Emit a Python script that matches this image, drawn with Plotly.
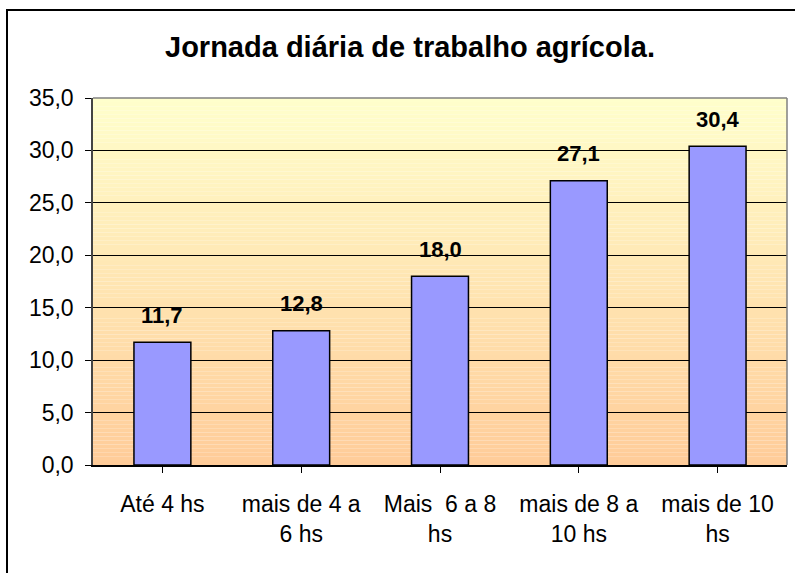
import plotly.graph_objects as go

categories = ["Até 4 hs", "mais de 4 a<br>6 hs", "Mais  6 a 8<br>hs", "mais de 8 a<br>10 hs", "mais de 10<br>hs"]
values = [11.7, 12.8, 18.0, 27.1, 30.4]
value_labels = ["11,7", "12,8", "18,0", "27,1", "30,4"]
title_text = "Jornada diária de trabalho agrícola."

FONT = "Liberation Sans, Arial, sans-serif"

fig = go.Figure()
fig.add_trace(go.Bar(
    x=list(range(len(categories))), y=values,
    marker=dict(color="#9999FF", line=dict(color="black", width=1.5)),
    width=0.41, hoverinfo="skip",
))

def lerp(c1, c2, t):
    return tuple(round(a + (b - a) * t) for a, b in zip(c1, c2))

bottom = (0xFF, 0xCC, 0x99)
top = (0xFF, 0xFF, 0xCC)
N = 90
shapes = []
for i in range(N):
    c = lerp(bottom, top, (i + 0.5) / N)
    shapes.append(dict(type="rect", xref="x domain", yref="y domain",
                       x0=0, x1=1, y0=i / N, y1=(i + 1) / N,
                       fillcolor="rgb(%d,%d,%d)" % c, line=dict(width=0), layer="below"))
shapes.append(dict(type="line", xref="x domain", yref="y domain", x0=0, x1=1, y0=1, y1=1,
                   line=dict(color="#808080", width=1.5)))
shapes.append(dict(type="line", xref="x domain", yref="y domain", x0=1, x1=1, y0=0, y1=1,
                   line=dict(color="#808080", width=1.5)))
shapes.append(dict(type="rect", xref="paper", yref="paper",
                   x0=(7 - 93) / 694, x1=1.1, y0=-0.5, y1=(465 - 10) / 367,
                   line=dict(color="black", width=2), fillcolor="rgba(0,0,0,0)"))

annotations = []
for i, (v, lab) in enumerate(zip(values, value_labels)):
    annotations.append(dict(x=i, y=v, text="<b>%s</b>" % lab, showarrow=False,
                            yshift=27, yanchor="middle",
                            font=dict(family=FONT, size=22, color="black")))

fig.update_layout(
    width=795, height=573,
    margin=dict(l=93, r=8, t=98, b=108),
    paper_bgcolor="white", plot_bgcolor="rgba(0,0,0,0)",
    separators=",.",
    showlegend=False,
    title=dict(text="<b>%s</b>" % title_text, x=410 / 795, xanchor="center",
               y=1 - 47 / 573, yanchor="middle",
               font=dict(family=FONT, size=29, color="black")),
    font=dict(family=FONT, size=23, color="black"),
    shapes=shapes,
    annotations=annotations,
    bargap=0.59,
)
fig.update_xaxes(
    range=[-0.5, 4.5], tickmode="array", tickvals=list(range(len(categories))),
    ticktext=categories, tickson="boundaries", ticks="outside", ticklen=6,
    tickcolor="black", showline=True, linecolor="black", linewidth=1.5,
    showgrid=False, zeroline=False, tickfont=dict(size=23), ticklabelstandoff=12,
)
fig.update_yaxes(
    range=[0, 35], dtick=5, tick0=0, tickformat=".1f", ticks="outside", ticklen=6,
    tickcolor="black", showline=True, linecolor="#444444", linewidth=1.5,
    showgrid=True, gridcolor="black", gridwidth=1, zeroline=False,
    tickfont=dict(size=23), ticklabelstandoff=7,
)

fig.write_html("out.html", config={"displayModeBar": False},
               post_script="document.body.style.margin='0';")
